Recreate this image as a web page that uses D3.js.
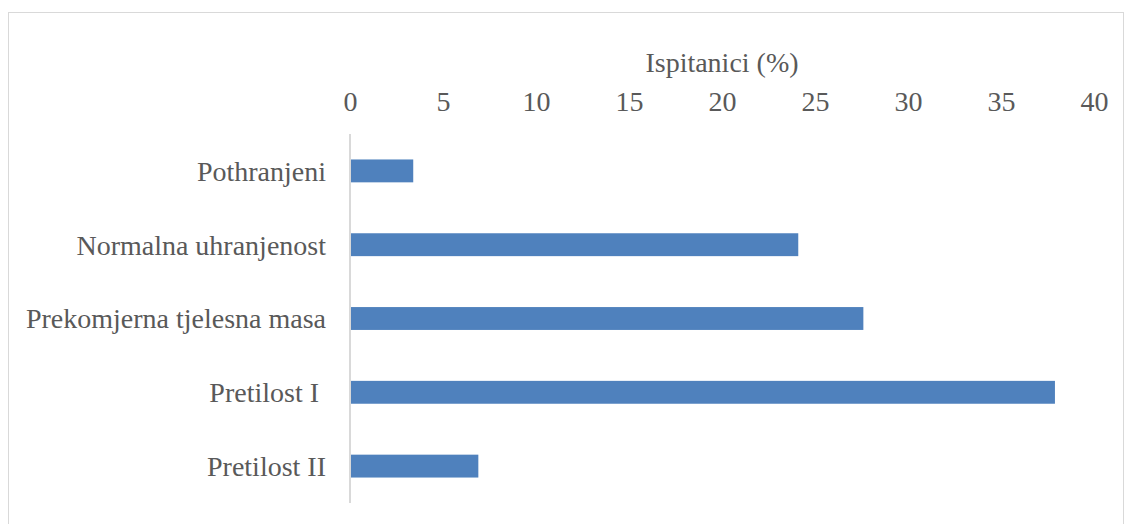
<!DOCTYPE html>
<html>
<head>
<meta charset="utf-8">
<script src="https://cdn.jsdelivr.net/npm/d3@7"></script>
<style>
  body { margin: 0; background: #fff; }
  svg text { font-family: "Liberation Serif", "DejaVu Serif", serif; fill: #595959; }
</style>
</head>
<body>
<div id="chart"></div>
<script>
// chart data
const categories = ['Pothranjeni', 'Normalna uhranjenost', 'Prekomjerna tjelesna masa', 'Pretilost I ', 'Pretilost II'];
const values = [3.4, 24.1, 27.6, 37.9, 6.9];
const ticks = [0, 5, 10, 15, 20, 25, 30, 35, 40];
const axisTitle = 'Ispitanici (%)';

let width = 1125;
let height = 524;
let margin = { top: 134, right: 31, bottom: 21, left: 350 };
let barColor = '#4f81bd';
let lineColor = '#d9d9d9';
let fontSize = '28px';

let svg = d3.select('#chart')
  .append('svg')
  .attr('width', width)
  .attr('height', height);

// outer frame of the chart area
svg.append('rect')
  .attr('x', 8.5)
  .attr('y', 12.5)
  .attr('width', 1115)
  .attr('height', 530)
  .attr('fill', 'none')
  .attr('stroke', lineColor);

let x = d3.scaleLinear()
  .domain([0, 40])
  .range([margin.left, width - margin.right]);

let y = d3.scaleBand()
  .domain(categories)
  .range([margin.top, height - margin.bottom])
  .paddingInner(0.69)
  .paddingOuter(0.345);

// top axis, labels only
let xAxis = svg.append('g')
  .attr('transform', `translate(0 ${margin.top})`)
  .call(d3.axisTop(x).tickValues(ticks).tickSize(0).tickPadding(23));
xAxis.attr('font-family', null).attr('font-size', null);
xAxis.select('.domain').remove();
xAxis.selectAll('text')
  .attr('fill', '#595959')
  .style('font-size', fontSize);

svg.append('text')
  .attr('x', (x(0) + x(40)) / 2)
  .attr('y', 72)
  .attr('text-anchor', 'middle')
  .style('font-size', fontSize)
  .text(axisTitle);

// bars
svg.append('g')
  .selectAll('rect')
  .data(values)
  .enter()
  .append('rect')
  .attr('x', x(0))
  .attr('y', (d, i) => y(categories[i]))
  .attr('width', d => x(d) - x(0))
  .attr('height', y.bandwidth())
  .attr('fill', barColor);

// vertical category axis line
svg.append('line')
  .attr('x1', x(0))
  .attr('x2', x(0))
  .attr('y1', margin.top)
  .attr('y2', height - margin.bottom)
  .attr('stroke', lineColor)
  .attr('stroke-width', 2);

// category labels
svg.append('g')
  .selectAll('text')
  .data(categories)
  .enter()
  .append('text')
  .attr('x', x(0) - 24)
  .attr('y', d => y(d) + y.bandwidth() / 2)
  .attr('dy', '0.35em')
  .attr('text-anchor', 'end')
  .style('font-size', fontSize)
  .style('white-space', 'pre')
  .text(d => d);
</script>
</body>
</html>
